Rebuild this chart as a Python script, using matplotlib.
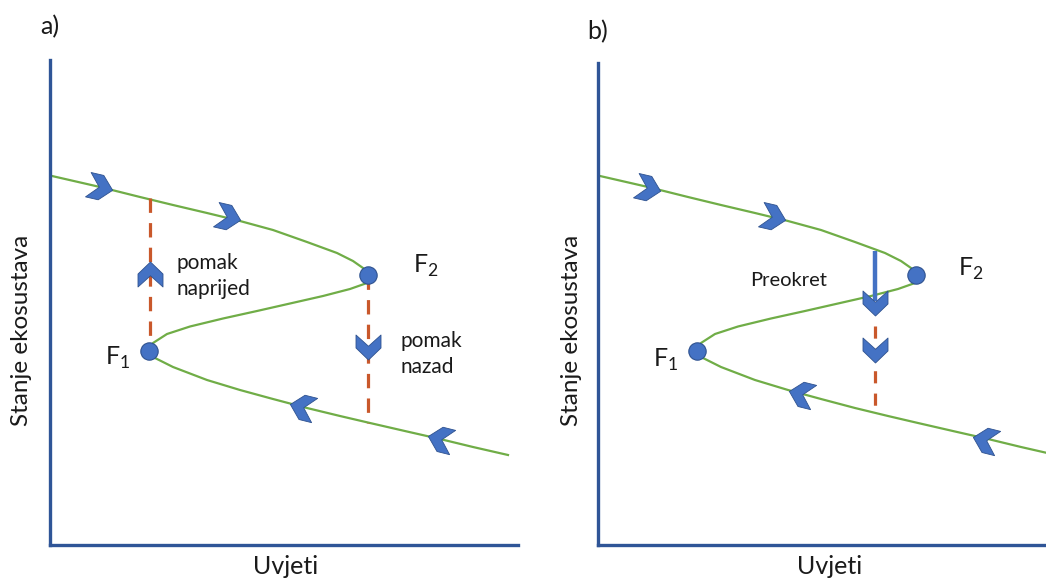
import numpy as np
import matplotlib
matplotlib.use("Agg")
import matplotlib.pyplot as plt
from matplotlib.path import Path
from matplotlib.markers import MarkerStyle
from matplotlib.transforms import Affine2D

plt.rcParams['font.family'] = ['Lato', 'DejaVu Sans']
plt.rcParams['mathtext.fontset'] = 'custom'
plt.rcParams['mathtext.rm'] = 'Lato'

# S-curve (x = uvjeti, y = stanje), same for both panels
uvjeti = [2, 50, 90, 123, 157, 190, 223, 257, 287, 303, 313, 318,
          317, 300, 273, 240, 207, 173, 140, 117, 103, 99,
          105, 123, 157, 190, 223, 257, 290, 320, 357, 390, 423, 458]
stanje = [369, 358, 348, 340, 332, 324, 315, 303, 292, 284, 277, 270,
          262, 256, 249, 241.5, 234, 226.5, 218.5, 211, 202, 194,
          187, 178, 165, 155, 146, 137, 129, 122, 113.5, 106, 98, 90]

# fold points F1, F2
fold_x = [99, 318]
fold_y = [194, 270]

# flow chevrons on the curve: x, y, direction (deg)
chev_a_x = [50, 178, 252, 390]
chev_a_y = [358, 328, 138, 106]
chev_b_x = [50, 175, 203, 387]
chev_b_y = [357, 328, 151, 105]
chev_dir = [-13, -13, 166, 166]

# jumps in panel a
skok_a_x = [100, 318]
skok_a_y0 = [347, 270]
skok_a_y1 = [194, 122]
skok_a_chev_y = [271, 198]
skok_a_dir = [90, -90]

# panel b: preokret
preokret_x = 277
preokret_y = [294, 244]
pad_y = [219, 132]
chev_pre_y = [242, 195]

W, H = 1046, 581
fig = plt.figure(figsize=(W / 100, H / 100), dpi=100)

axis_col = '#2F5597'
curve_col = '#70AD47'
dash_col = '#C9582B'
blue = '#4472C4'
edge = '#2F528F'
txt = '#1a1a1a'


def chevron(angle):
    v = [(-0.5, 0.5), (0.02, 0.5), (0.5, 0.0), (0.02, -0.5), (-0.5, -0.5),
         (-0.05, 0.0), (-0.5, 0.5)]
    p = Path(v, [Path.MOVETO] + [Path.LINETO] * 5 + [Path.CLOSEPOLY])
    return MarkerStyle(p, transform=Affine2D().rotate_deg(angle))


def put_chev(ax, x, y, ang, size=18):
    ax.plot([x], [y], linestyle='none', marker=chevron(ang), markersize=size,
            markerfacecolor=blue, markeredgecolor=edge, markeredgewidth=0.6,
            zorder=5, clip_on=False)


def setup(ax, w, h):
    ax.set_xlim(0, w)
    ax.set_ylim(0, h)
    for s in ['top', 'right']:
        ax.spines[s].set_visible(False)
    for s in ['left', 'bottom']:
        ax.spines[s].set_color(axis_col)
        ax.spines[s].set_linewidth(2.4)
    ax.set_xticks([])
    ax.set_yticks([])


def fold_curve(ax):
    ax.plot(uvjeti, stanje, color=curve_col, lw=1.6, zorder=2,
            solid_joinstyle='round')
    ax.plot(fold_x, fold_y, linestyle='none', marker='o', markersize=12.5,
            markerfacecolor=blue, markeredgecolor=edge, markeredgewidth=0.8,
            zorder=6)


# ---- panel a
ax1 = fig.add_axes([50 / W, 36 / H, 468 / W, 485 / H])
setup(ax1, 468, 485)
fold_curve(ax1)
for x, y0, y1 in zip(skok_a_x, skok_a_y0, skok_a_y1):
    ax1.plot([x, x], [y0, y1], color=dash_col, lw=2.3, dashes=(4.5, 3.2),
             zorder=3)
for x, y, a in zip(skok_a_x, skok_a_chev_y, skok_a_dir):
    put_chev(ax1, x, y, a)
for x, y, a in zip(chev_a_x, chev_a_y, chev_dir):
    put_chev(ax1, x, y, a)
ax1.text(126, 269, 'pomak\nnaprijed', fontsize=15, color=txt, ha='left',
         va='center', linespacing=1.4)
ax1.text(350, 191, 'pomak\nnazad', fontsize=15, color=txt, ha='left',
         va='center', linespacing=1.4)
ax1.text(363, 272, r'F$_{\mathrm{2}}$', fontsize=18, color=txt,
         va='baseline')
ax1.text(55, 180, r'F$_{\mathrm{1}}$', fontsize=18, color=txt,
         va='baseline')

# ---- panel b
ax2 = fig.add_axes([598 / W, 36 / H, 448 / W, 482 / H])
setup(ax2, 448, 482)
fold_curve(ax2)
ax2.plot([preokret_x, preokret_x], preokret_y, color=blue, lw=3.2,
         solid_capstyle='butt', zorder=3)
ax2.plot([preokret_x, preokret_x], pad_y, color=dash_col, lw=2.3,
         dashes=(3.8, 3.2), zorder=3)
for y in chev_pre_y:
    put_chev(ax2, preokret_x, y, -90)
for x, y, a in zip(chev_b_x, chev_b_y, chev_dir):
    put_chev(ax2, x, y, a)
ax2.text(152, 264, 'Preokret', fontsize=14.5, color=txt, ha='left',
         va='center')
ax2.text(360, 269, r'F$_{\mathrm{2}}$', fontsize=18, color=txt,
         va='baseline')
ax2.text(55, 178, r'F$_{\mathrm{1}}$', fontsize=18, color=txt,
         va='baseline')

# ---- labels
fig.text(22 / W, 1 - 330 / H, 'Stanje ekosustava', fontsize=17.5, color=txt,
         rotation=90, ha='center', va='center')
fig.text(571 / W, 1 - 330 / H, 'Stanje ekosustava', fontsize=17.5, color=txt,
         rotation=90, ha='center', va='center')
fig.text(286 / W, 1 - 566 / H, 'Uvjeti', fontsize=18, color=txt,
         ha='center', va='center')
fig.text(830 / W, 1 - 566 / H, 'Uvjeti', fontsize=18, color=txt,
         ha='center', va='center')
fig.text(40 / W, 1 - 27 / H, 'a)', fontsize=18, color=txt, ha='left',
         va='center')
fig.text(587 / W, 1 - 32 / H, 'b)', fontsize=18, color=txt, ha='left',
         va='center')

fig.savefig('out.png', dpi=100)
